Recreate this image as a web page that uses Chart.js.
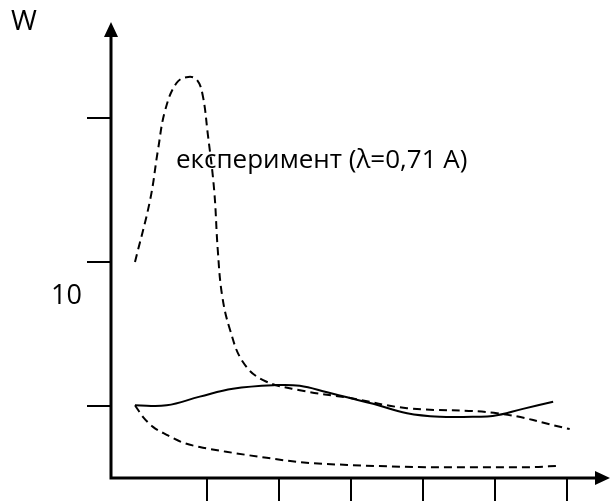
<!DOCTYPE html>
<html>
<head>
<meta charset="utf-8">
<script src="https://cdn.jsdelivr.net/npm/chart.js@4.4.0/dist/chart.umd.min.js"></script>
<style>
  body { margin: 0; background: #fff; }
  #wrap { position: relative; width: 610px; height: 502px; }
  .lbl { position: absolute; font-family: "Open Sans", sans-serif; line-height: 1; color: #000; white-space: nowrap; }
</style>
</head>
<body>
<div id="wrap">
  <canvas id="chart" width="610" height="502"></canvas>
  <div class="lbl" id="wLbl" style="left:11px; top:5px; font-size:28px;">W</div>
  <div class="lbl" id="tenLbl" style="left:51px; top:280px; font-size:27px;">10</div>
  <div class="lbl" id="expLbl" style="left:176px; top:145px; font-size:26px;">експеримент (λ=0,71 A)</div>
</div>
<script>
// tick positions on the axes (no labels in the picture)
const xTicks = [1, 2, 3, 4, 5, 6];
const yTicks = [1, 3, 5];

// solid curve
const solidX = [0, 0.44, 0.90, 1.36, 1.97, 2.29, 2.67, 2.99, 3.31, 3.78, 4.24, 4.69, 4.97, 5.39, 5.81];
const solidY = [1.01, 1.01, 1.13, 1.24, 1.29, 1.28, 1.19, 1.11, 1.03, 0.90, 0.85, 0.85, 0.86, 0.96, 1.06];

// dashed curve with the peak (experiment)
const expX = [0, 0.21, 0.32, 0.42, 0.58, 0.74, 0.86, 0.94, 1.01, 1.10, 1.15, 1.21, 1.32, 1.50, 1.78, 2.29, 2.99, 3.78, 5.03, 6.04];
const expY = [3.00, 3.86, 4.56, 5.11, 5.49, 5.57, 5.53, 5.32, 4.79, 4.00, 3.17, 2.54, 2.06, 1.61, 1.36, 1.22, 1.11, 0.97, 0.90, 0.68];

// lower dashed curve
const lowX = [0, 0.11, 0.25, 0.44, 0.67, 0.90, 1.36, 1.83, 2.29, 2.99, 4.24, 5.44, 5.90];
const lowY = [1.01, 0.85, 0.71, 0.60, 0.49, 0.43, 0.35, 0.28, 0.22, 0.18, 0.15, 0.15, 0.17];

const pts = (xs, ys) => xs.map((x, i) => ({ x: x, y: ys[i] }));

const axesPlugin = {
  id: 'arrowAxes',
  afterDatasetsDraw(chart) {
    const ctx = chart.ctx;
    const xs = chart.scales.x, ys = chart.scales.y;
    const ox = xs.getPixelForValue(xs.min);
    const oy = ys.getPixelForValue(0);
    const top = ys.getPixelForValue(ys.max);
    const right = xs.getPixelForValue(xs.max);
    ctx.save();
    ctx.strokeStyle = '#000';
    ctx.fillStyle = '#000';
    // axis lines
    ctx.lineWidth = 3;
    ctx.beginPath();
    ctx.moveTo(ox, oy);
    ctx.lineTo(ox, top + 12);
    ctx.moveTo(ox - 1.5, oy);
    ctx.lineTo(right - 12, oy);
    ctx.stroke();
    // arrow heads
    ctx.beginPath();
    ctx.moveTo(ox, top);
    ctx.lineTo(ox - 7, top + 15);
    ctx.lineTo(ox + 7, top + 15);
    ctx.closePath();
    ctx.fill();
    ctx.beginPath();
    ctx.moveTo(right, oy);
    ctx.lineTo(right - 15, oy - 7);
    ctx.lineTo(right - 15, oy + 7);
    ctx.closePath();
    ctx.fill();
    // tick marks
    ctx.lineWidth = 2;
    ctx.beginPath();
    yTicks.forEach(v => {
      const py = Math.round(ys.getPixelForValue(v));
      ctx.moveTo(ox - 24, py);
      ctx.lineTo(ox, py);
    });
    xTicks.forEach(v => {
      const px = Math.round(xs.getPixelForValue(v));
      ctx.moveTo(px, oy);
      ctx.lineTo(px, oy + 23);
    });
    ctx.stroke();
    ctx.restore();
  }
};

new Chart(document.getElementById('chart'), {
  type: 'scatter',
  data: {
    datasets: [
      { data: pts(expX, expY), showLine: true, borderColor: '#000', borderWidth: 2,
        borderDash: [8, 5], pointRadius: 0, tension: 0.4 },
      { data: pts(solidX, solidY), showLine: true, borderColor: '#000', borderWidth: 2,
        pointRadius: 0, tension: 0.4 },
      { data: pts(lowX, lowY), showLine: true, borderColor: '#000', borderWidth: 2,
        borderDash: [8, 5], pointRadius: 0, cubicInterpolationMode: 'monotone' }
    ]
  },
  options: {
    responsive: false,
    animation: false,
    layout: { padding: { left: 111, right: 0, top: 22, bottom: 24 } },
    plugins: { legend: { display: false }, tooltip: { enabled: false } },
    scales: {
      x: { type: 'linear', display: false, min: -0.3333, max: 6.6 },
      y: { type: 'linear', display: false, min: 0, max: 6.333 }
    }
  },
  plugins: [axesPlugin]
});
</script>
</body>
</html>
